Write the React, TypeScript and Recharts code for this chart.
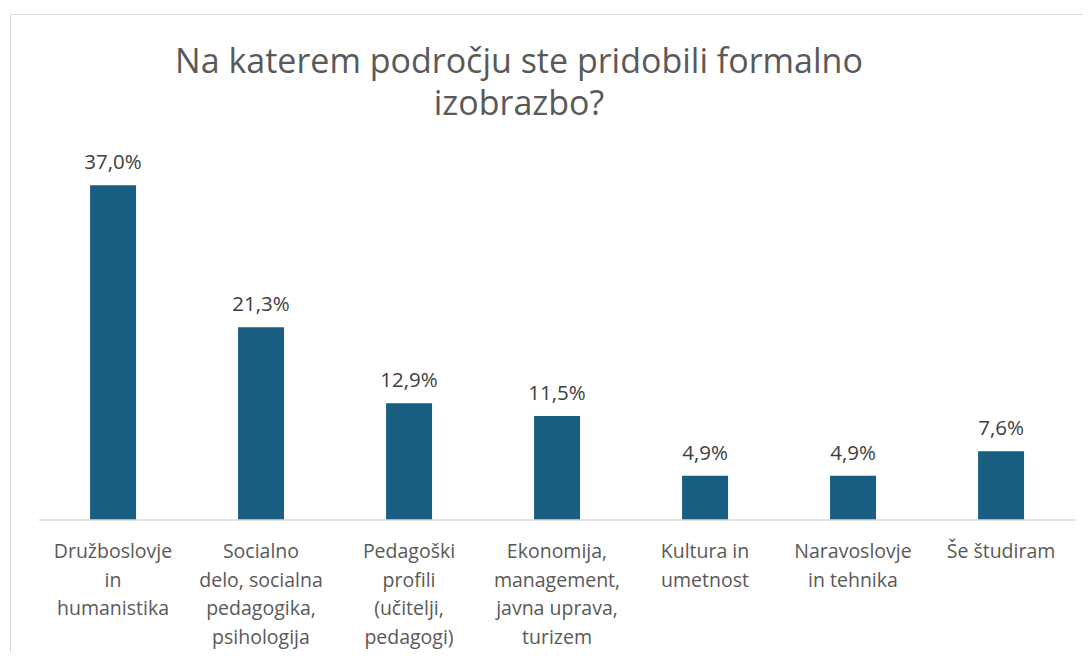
import React from 'react';
import { BarChart, Bar, XAxis, YAxis, LabelList } from 'recharts';

const categories = [
  'Družboslovje in humanistika',
  'Socialno delo, socialna pedagogika, psihologija',
  'Pedagoški profili (učitelji, pedagogi)',
  'Ekonomija, management, javna uprava, turizem',
  'Kultura in umetnost',
  'Naravoslovje in tehnika',
  'Še študiram',
];

const tickLines = [
  ['Družboslovje', 'in', 'humanistika'],
  ['Socialno', 'delo, socialna', 'pedagogika,', 'psihologija'],
  ['Pedagoški', 'profili', '(učitelji,', 'pedagogi)'],
  ['Ekonomija,', 'management,', 'javna uprava,', 'turizem'],
  ['Kultura in', 'umetnost'],
  ['Naravoslovje', 'in tehnika'],
  ['Še študiram'],
];

const shares = [37.0, 21.3, 12.9, 11.5, 4.9, 4.9, 7.6];

const titleLines = ['Na katerem področju ste pridobili formalno', 'izobrazbo?'];

const FONT = '"Open Sans", "Liberation Sans", sans-serif';

const chartData = categories.map((name, i) => ({ name, idx: i, value: shares[i] }));

const fmt = (v: any) => `${Number(v).toFixed(1).replace('.', ',')}%`;

const WrappedTick = ({ x, y, payload }: any) => {
  const lines = tickLines[payload.index] || [String(payload.value)];
  return (
    <text x={x} y={y} textAnchor="middle" fill="#595959" fontSize={19.5} fontFamily={FONT}>
      {lines.map((l, i) => (
        <tspan key={i} x={x} dy={i === 0 ? 30 : 28.5}>
          {l}
        </tspan>
      ))}
    </text>
  );
};

const App: React.FC = () => {
  return (
    <div style={{ position: 'relative', width: 1091, height: 661, margin: -8, overflow: 'hidden', background: '#fff' }}>
      <div
        style={{
          position: 'absolute',
          left: 10,
          top: 14,
          width: 1100,
          height: 700,
          border: '1px solid #d9d9d9',
        }}
      />
      <div
        style={{
          position: 'absolute',
          left: 0,
          top: 39,
          width: 1038,
          textAlign: 'center',
          fontFamily: FONT,
          fontSize: 34,
          lineHeight: '42px',
          color: '#595959',
        }}
      >
        {titleLines.map((t, i) => (
          <div key={i}>{t}</div>
        ))}
      </div>
      <div style={{ position: 'absolute', left: 0, top: 0 }}>
        <BarChart
          width={1091}
          height={661}
          data={chartData}
          margin={{ top: 158, right: 16, bottom: 111, left: 39 }}
          barCategoryGap="34.5%"
        >
          <YAxis hide domain={[0, 40]} />
          <XAxis
            dataKey="name"
            interval={0}
            height={30}
            tickLine={false}
            axisLine={{ stroke: '#d9d9d9', strokeWidth: 1.5 }}
            tick={<WrappedTick />}
          />
          <Bar dataKey="value" fill="#175e80" isAnimationActive={false}>
            <LabelList
              dataKey="value"
              position="top"
              offset={16}
              formatter={fmt}
              fill="#404040"
              fontSize={20.5}
              fontFamily={FONT}
            />
          </Bar>
        </BarChart>
      </div>
    </div>
  );
};

export default App;
